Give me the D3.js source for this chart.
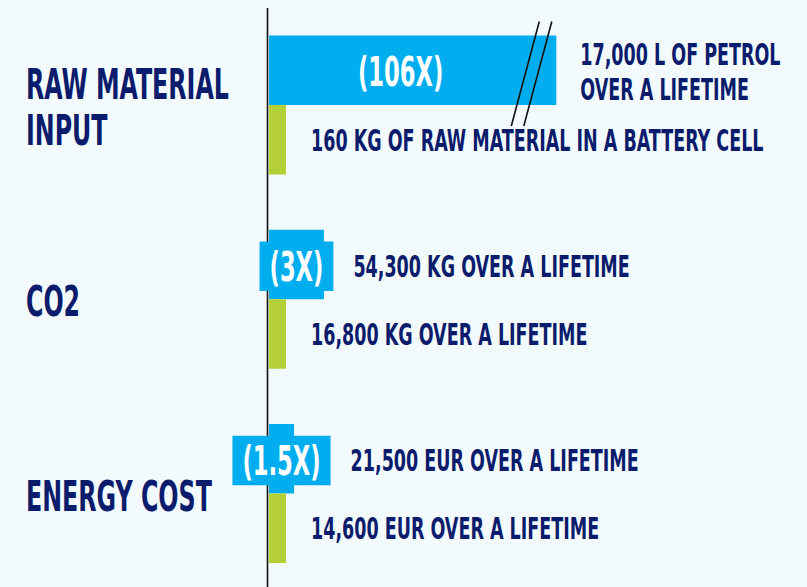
<!DOCTYPE html>
<html>
<head>
<meta charset="utf-8">
<script src="https://cdn.jsdelivr.net/npm/d3@7"></script>
<style>
  html, body { margin: 0; padding: 0; background: #f2fafd; }
  svg text { font-family: "Liberation Sans Narrow", "DejaVu Sans Condensed", sans-serif; font-weight: bold; }
</style>
</head>
<body>
<script>
// data
var categories = [["RAW MATERIAL", "INPUT"], ["CO2"], ["ENERGY COST"]];
var petrolValues = [17000, 54300, 21500];
var evValues = [160, 16800, 14600];
var ratioLabels = ["(106X)", "(3X)", "(1.5X)"];
var petrolLabels = [["17,000 L OF PETROL", "OVER A LIFETIME"], ["54,300 KG OVER A LIFETIME"], ["21,500 EUR OVER A LIFETIME"]];
var evLabels = ["160 KG OF RAW MATERIAL IN A BATTERY CELL", "16,800 KG OVER A LIFETIME", "14,600 EUR OVER A LIFETIME"];

var width = 807, height = 587;
var blue = "#00aeef", green = "#b5cf36", navy = "#0c1c6c";

var svg = d3.select("body").append("svg")
    .attr("width", width)
    .attr("height", height)
    .style("display", "block");

svg.append("rect").attr("width", width).attr("height", height).attr("fill", "#f2fafd");

// one unit = the electric car's value; bars longer than breakAt get cut
var breakAt = 16.9;
var x = d3.scaleLinear().domain([0, 1]).range([269, 286]);
var y = d3.scalePoint().domain(d3.range(categories.length)).range([105, 493.5]);
var barH = 69.5;

var rows = categories.map(function(c, i){
    return {i: i, cat: c, petrol: petrolValues[i], ev: evValues[i], ratio: petrolValues[i] / evValues[i],
            ratioLabel: ratioLabels[i], petrolLabel: petrolLabels[i], evLabel: evLabels[i]};
});

// measure the font once and squeeze it to look like the condensed face
var probe = svg.append("text").attr("font-size", 42).text("RAW MATERIAL");
var sx = 203 / probe.node().getComputedTextLength();
probe.remove();

function label(g, tx, ty, str, size, fill, anchor){
    return g.append("text")
        .attr("transform", "translate(" + tx + "," + ty + ") scale(" + sx + ",1)")
        .attr("font-size", size)
        .attr("fill", fill)
        .attr("text-anchor", anchor || "start")
        .text(str);
}

// axis line
svg.append("line")
    .attr("x1", 267.5).attr("x2", 267.5)
    .attr("y1", 8).attr("y2", height)
    .attr("stroke", "#111").attr("stroke-width", 1.6);

var capBig = 30, capMid = 29, capSmall = 22;

rows.forEach(function(d){
    var g = svg.append("g");
    var cy = y(d.i);
    var blueEnd = x(Math.min(d.ratio, breakAt));
    var blueMid = cy - barH / 2;
    var greenMid = cy + barH / 2;

    g.append("rect")
        .attr("x", x(0)).attr("y", cy - barH)
        .attr("width", blueEnd - x(0)).attr("height", barH)
        .attr("fill", blue);
    g.append("rect")
        .attr("x", x(0)).attr("y", cy)
        .attr("width", x(1) - x(0)).attr("height", barH)
        .attr("fill", green);

    // category name
    var lines = d.cat;
    var lh = 46;
    lines.forEach(function(t, k){
        var base = cy + 2 + capBig / 2 - (lines.length - 1) * lh / 2 + k * lh;
        label(g, 26, base, t, 42, navy);
    });

    var labelX;
    if (d.ratio > breakAt) {
        // broken bar: ratio inside, break marks
        label(g, (x(0) + blueEnd) / 2 - 12, blueMid + capMid / 2 + 1, d.ratioLabel, 40, "#fff", "middle");
        [0, 12.5].forEach(function(off){
            g.append("line")
                .attr("x1", blueEnd - 17 + off).attr("y1", cy - barH - 14)
                .attr("x2", blueEnd - 45 + off).attr("y2", cy + 21)
                .attr("stroke", "#111").attr("stroke-width", 1.6);
        });
        labelX = blueEnd + 24;
    } else {
        var t = label(g, 0, 0, d.ratioLabel, 40, "#fff", "middle");
        var w = t.node().getComputedTextLength() * sx + 20;
        var bx = (x(0) + blueEnd) / 2;
        g.insert("rect", function(){ return t.node(); })
            .attr("x", bx - w / 2).attr("y", blueMid - 23)
            .attr("width", w).attr("height", 49.5)
            .attr("fill", blue);
        t.attr("transform", "translate(" + bx + "," + (blueMid + 2 + capMid / 2) + ") scale(" + sx + ",1)");
        labelX = bx + w / 2 + 20;
    }

    // petrol value label
    var pl = d.petrolLabel;
    pl.forEach(function(t, k){
        var base = blueMid + 1 + capSmall / 2 - (pl.length - 1) * 35 / 2 + k * 35;
        label(g, labelX, base, t, 31, navy);
    });

    // electric value label
    label(g, x(1) + 25, greenMid + capSmall / 2, d.evLabel, 31, navy);
});
</script>
</body>
</html>
